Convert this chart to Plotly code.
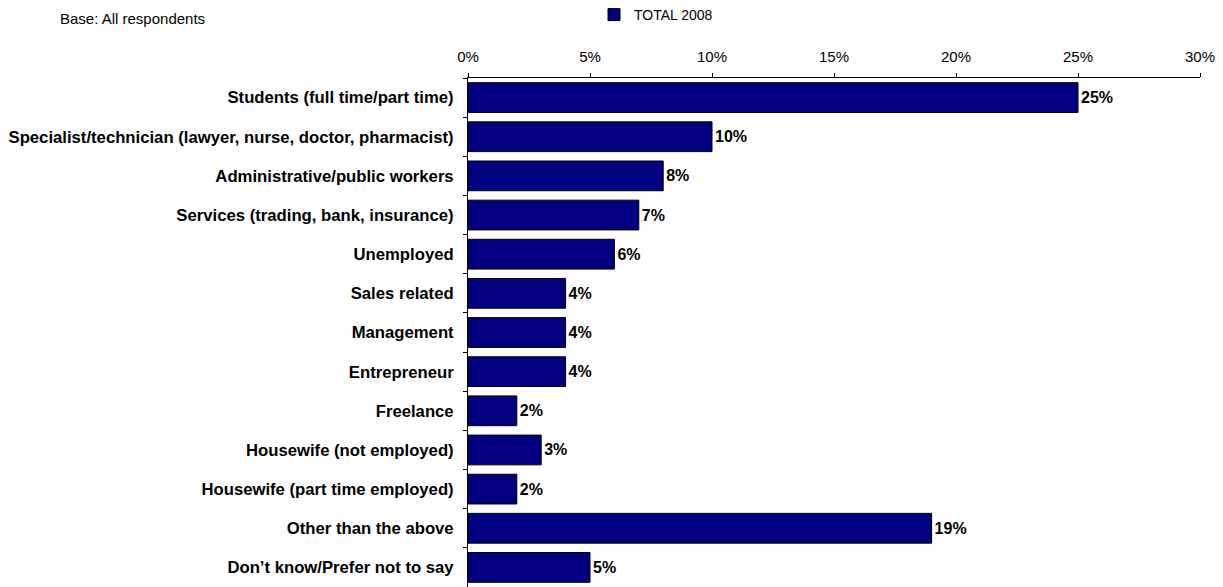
import plotly.graph_objects as go

categories = [
    "Students (full time/part time)",
    "Specialist/technician (lawyer, nurse, doctor, pharmacist)",
    "Administrative/public workers",
    "Services (trading, bank, insurance)",
    "Unemployed",
    "Sales related",
    "Management",
    "Entrepreneur",
    "Freelance",
    "Housewife (not employed)",
    "Housewife (part time employed)",
    "Other than the above",
    "Don\u2019t know/Prefer not to say",
]
values = [25, 10, 8, 7, 6, 4, 4, 4, 2, 3, 2, 19, 5]
series_name = "TOTAL 2008"
tick_vals = [0, 5, 10, 15, 20, 25, 30]
tick_text = ["0%", "5%", "10%", "15%", "20%", "25%", "30%"]

# page has an 8px body margin; figure sized to fit the 1223x587 window
OFF = 8
W, H = 1223 - OFF, 587 - OFF
L, R, T, B = 468 - OFF, 23, 78 - OFF, 0
PW, PH = W - L - R, H - T - B

FONT = "Liberation Sans, Arial, sans-serif"

fig = go.Figure()
fig.add_trace(go.Bar(
    x=values,
    y=categories,
    orientation="h",
    name=series_name,
    marker=dict(color="#000080", line=dict(color="#000000", width=1)),
    width=0.76,
    text=[f"{v}%" for v in values],
    textposition="outside",
    textfont=dict(family=FONT, size=16, color="#000000"),
    texttemplate="<b>%{text}</b>",
    cliponaxis=False,
    showlegend=True,
))

fig.update_layout(
    width=W, height=H,
    margin=dict(l=L, r=R, t=T, b=B, pad=0),
    paper_bgcolor="white",
    plot_bgcolor="white",
    font=dict(family=FONT, color="#000000"),
    showlegend=True,
    legend=dict(
        orientation="h",
        xref="container", yref="container",
        x=(594 - OFF) / W, y=1 - (15 - OFF) / H,
        xanchor="left", yanchor="middle",
        font=dict(family=FONT, size=14, color="#000000"),
        itemwidth=30,
        bgcolor="rgba(0,0,0,0)",
    ),
    xaxis=dict(
        side="top",
        range=[0, 30],
        tickvals=tick_vals,
        ticktext=tick_text,
        showgrid=False,
        zeroline=False,
        showline=True,
        linecolor="#000000",
        linewidth=1,
        ticks="outside",
        ticklen=4,
        tickcolor="#000000",
        tickfont=dict(family=FONT, size=15, color="#000000"),
        ticklabelstandoff=5,
        fixedrange=True,
    ),
    yaxis=dict(
        autorange="reversed",
        showgrid=False,
        zeroline=False,
        showline=True,
        linecolor="#000000",
        linewidth=1,
        ticks="outside",
        ticklen=4,
        tickcolor="#000000",
        tickson="boundaries",
        tickfont=dict(family=FONT, size=16.7, color="#000000", weight="bold"),
        ticklabelstandoff=10,
        fixedrange=True,
    ),
    annotations=[
        dict(
            text="Base: All respondents",
            xref="paper", yref="paper",
            x=(58 - OFF - L) / PW, y=(H - B) / PH,
            xanchor="left", yanchor="top",
            showarrow=False,
            font=dict(family=FONT, size=15, color="#000000"),
        )
    ],
)

fig.write_html("out.html")
